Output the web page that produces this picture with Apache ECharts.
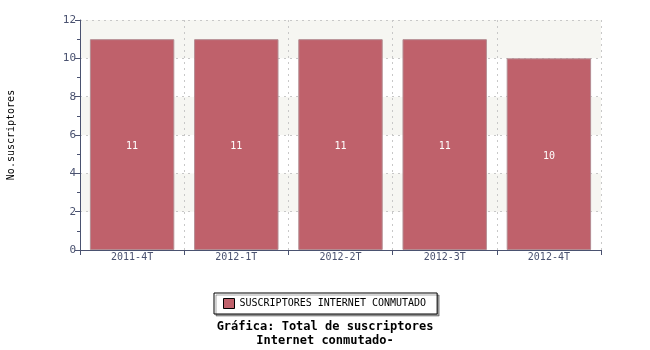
<!DOCTYPE html>
<html><head><meta charset="utf-8">
<script src="https://cdn.jsdelivr.net/npm/echarts@6/dist/echarts.min.js"></script>
<style>html,body{margin:0;padding:0;background:#fff}#c{width:650px;height:350px}</style>
</head><body><div id="c"></div>
<script>
const categories = ['2011-4T','2012-1T','2012-2T','2012-3T','2012-4T'];
const values = [11, 11, 11, 11, 10];
const seriesName = 'SUSCRIPTORES INTERNET CONMUTADO';
const yAxisName = 'No.suscriptores';
const titleText = 'Gráfica: Total de suscriptores\nInternet conmutado-';
const font = 'DejaVu Sans Mono';
const axisColor = '#4a5270';
const chart = echarts.init(document.getElementById('c'), null, {renderer:'canvas'});
chart.setOption({
  animation:false,
  textStyle:{fontFamily:font},
  grid:{left:80, right:49, top:20, bottom:100, containLabel:false, outerBoundsMode:'none'},
  title:{text:titleText, left:320, textAlign:'center', top:315,
    textStyle:{fontFamily:font, fontSize:12, fontWeight:'bold', color:'#000', lineHeight:14}},
  legend:{data:[seriesName], left:214, top:293, itemWidth:11, itemHeight:10, itemGap:5,
    padding:[5,11,5,9], borderColor:'#000', borderWidth:1, backgroundColor:'#fff',
    shadowColor:'rgba(0,0,0,0.35)', shadowOffsetX:2, shadowOffsetY:2, shadowBlur:0,
    textStyle:{fontFamily:font, fontSize:10, color:'#000'},
    icon:'rect', itemStyle:{borderColor:'#000', borderWidth:1}},
  xAxis:{type:'category', data:categories,
    axisLine:{lineStyle:{color:axisColor, width:1}},
    axisTick:{show:true, inside:false, length:5, alignWithLabel:false, lineStyle:{color:axisColor}},
    axisLabel:{fontFamily:font, fontSize:10, color:axisColor, margin:2},
    splitLine:{show:true, lineStyle:{color:'#c8c8c8', type:[2,4]}}},
  yAxis:{type:'value', min:0, max:12, interval:2,
    name:yAxisName, nameLocation:'middle', nameGap:64, nameRotate:90,
    nameTextStyle:{fontFamily:font, fontSize:10, color:'#000'},
    axisLine:{show:true, lineStyle:{color:axisColor}},
    axisTick:{show:true, inside:false, length:5, lineStyle:{color:axisColor}},
    minorTick:{show:true, splitNumber:2, length:3, lineStyle:{color:axisColor}},
    axisLabel:{fontFamily:font, fontSize:11, color:axisColor, margin:4},
    splitLine:{show:true, lineStyle:{color:'#c8c8c8', type:[2,4]}},
    splitArea:{show:true, areaStyle:{color:['#ffffff','#f6f6f2']}}},
  series:[{name:seriesName, type:'bar', data:values, barCategoryGap:'19%',
    itemStyle:{color:'#bf616b', borderColor:'#b48c92', borderWidth:1},
    label:{show:true, position:'inside', offset:[0,2], color:'#fff', fontFamily:font, fontSize:10}}]
});
</script></body></html>
